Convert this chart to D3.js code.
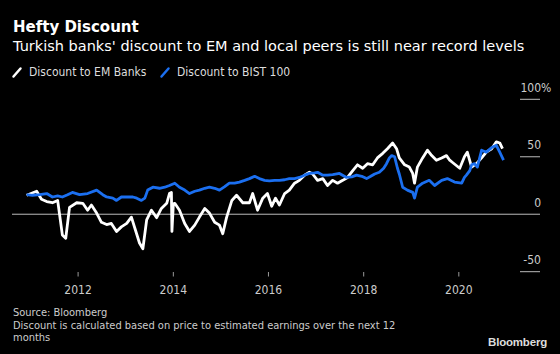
<!DOCTYPE html>
<html>
<head>
<meta charset="utf-8">
<script src="https://cdn.jsdelivr.net/npm/d3@7"></script>
<style>
  body { margin: 0; background: #000; }
  svg { display: block; background: #000; }
  text { font-family: "DejaVu Sans Condensed", "DejaVu Sans", sans-serif; }
</style>
</head>
<body>
<div id="chart"></div>
<script>
var svgWidth = 560;
var svgHeight = 354;

// Discount to EM Banks (decimal year, %)
var emYears = [2010.93, 2011.14, 2011.24, 2011.35, 2011.47, 2011.58, 2011.68, 2011.75, 2011.83, 2011.98,
  2012.11, 2012.21, 2012.29, 2012.40, 2012.50, 2012.61, 2012.71, 2012.82, 2012.92, 2013.03,
  2013.13, 2013.20, 2013.30, 2013.37, 2013.45, 2013.55, 2013.66, 2013.76, 2013.87, 2013.93,
  2013.97, 2013.98, 2014.01, 2014.04, 2014.14, 2014.25, 2014.35, 2014.46, 2014.56, 2014.67,
  2014.77, 2014.88, 2014.98, 2015.05, 2015.13, 2015.24, 2015.34, 2015.47, 2015.61, 2015.68,
  2015.78, 2015.89, 2015.99, 2016.08, 2016.16, 2016.24, 2016.35, 2016.45, 2016.56, 2016.66,
  2016.77, 2016.87, 2016.94, 2017.04, 2017.15, 2017.25, 2017.36, 2017.46, 2017.57, 2017.67,
  2017.78, 2017.88, 2017.99, 2018.09, 2018.20, 2018.30, 2018.41, 2018.51, 2018.62, 2018.70,
  2018.76, 2018.87, 2018.97, 2019.04, 2019.08, 2019.14, 2019.25, 2019.35, 2019.44, 2019.54,
  2019.65, 2019.75, 2019.82, 2019.88, 2020.03, 2020.13, 2020.19, 2020.28, 2020.38, 2020.49,
  2020.59, 2020.70, 2020.80, 2020.87, 2020.93];
var emValues = [16.5, 20, 13, 11, 10, 12, -18, -21, 6, 10,
  9.5, 3.5, 8, 1, -7, -9, -8, -15, -11, -8,
  -2.5, -12, -25, -30, -5, 3.5, -3, 5, 9.5, 18,
  19, -15, 9, 9.5, 3.5, -8, -15, -9.5, -2.5, 5,
  1, -7, -9.5, -17, -3, 12, 16.5, 10, 10, 18,
  3.5, 14, 18, 7, 14, 8, 18, 21, 27, 29.5,
  34, 36.5, 35, 29.5, 31, 25, 29.5, 27, 29.5, 32,
  38, 43, 40, 44, 43, 49, 53, 57, 62, 57,
  49, 43, 41, 35.5, 27, 41, 49, 55.7, 51, 47,
  49, 51, 47, 45, 40, 50, 54, 41, 44, 49,
  54, 57, 63, 62, 57];

// Discount to BIST 100 (decimal year, %)
var bistYears = [2010.93, 2011.05, 2011.20, 2011.35, 2011.47, 2011.58, 2011.68, 2011.79, 2011.89, 2012.04,
  2012.21, 2012.40, 2012.53, 2012.61, 2012.74, 2012.82, 2012.92, 2013.03, 2013.16, 2013.24,
  2013.34, 2013.41, 2013.47, 2013.58, 2013.72, 2013.83, 2013.93, 2014.04, 2014.14, 2014.25,
  2014.35, 2014.46, 2014.56, 2014.67, 2014.77, 2014.88, 2014.98, 2015.09, 2015.19, 2015.30,
  2015.40, 2015.51, 2015.61, 2015.72, 2015.82, 2015.93, 2016.03, 2016.14, 2016.24, 2016.35,
  2016.45, 2016.56, 2016.66, 2016.77, 2016.87, 2016.98, 2017.04, 2017.15, 2017.25, 2017.36,
  2017.50, 2017.65, 2017.76, 2017.86, 2017.97, 2018.07, 2018.16, 2018.24, 2018.34, 2018.43,
  2018.49, 2018.55, 2018.60, 2018.66, 2018.72, 2018.76, 2018.83, 2018.93, 2019.04, 2019.08,
  2019.14, 2019.25, 2019.39, 2019.50, 2019.65, 2019.77, 2019.92, 2020.07, 2020.13, 2020.17,
  2020.24, 2020.28, 2020.34, 2020.40, 2020.49, 2020.59, 2020.70, 2020.80, 2020.87, 2020.95];
var bistValues = [17, 16.5, 17, 18, 15, 16, 15, 17, 19, 17,
  18, 21, 17, 15, 14, 12, 15, 15, 15, 14,
  12, 14, 21, 23.5, 22.6, 23.5, 25, 27, 23.5, 21,
  18, 20, 21, 22.6, 23.5, 22.6, 21, 24, 27, 27,
  28, 29.5, 31, 33, 31, 29.5, 29, 29.5, 29.5, 30,
  31, 31, 32, 34, 35.5, 36, 36.5, 34, 34, 34.5,
  35.5, 32, 32.5, 34, 33, 31, 33, 35, 36.5, 40,
  44, 49, 51, 50, 40, 35, 23.5, 21, 19, 14,
  23.5, 27, 29.5, 25, 29.5, 31, 28, 27, 32, 34,
  38, 43, 44, 41, 55.7, 54, 58, 60, 54, 47];

var seriesNames = ["Discount to EM Banks", "Discount to BIST 100"];
var seriesColors = ["#ffffff", "#1b6ff0"];
var yearTicks = [2012, 2014, 2016, 2018, 2020];
var valueTicks = [-50, 0, 50, 100];

function yearToDate(y) {
  var yr = Math.floor(y);
  return new Date(yr, 0, 1 + Math.round((y - yr) * 365));
}

var emData = emYears.map((y, i) => ({date: yearToDate(y), value: emValues[i]}));
var bistData = bistYears.map((y, i) => ({date: yearToDate(y), value: bistValues[i]}));

var svg = d3.select("#chart")
  .append("svg")
  .attr("width", svgWidth)
  .attr("height", svgHeight);

// Scales
var xScale = d3.scaleTime()
  .domain([new Date(2010, 11, 1), new Date(2021, 0, 1)])
  .range([26, 506]);

var yScale = d3.scaleLinear()
  .domain([-50, 100])
  .range([271.7, 99.3]);

// Title block
svg.append("text")
  .attr("x", 13).attr("y", 32)
  .attr("fill", "#fff")
  .style("font-family", "'DejaVu Sans', sans-serif")
  .style("font-weight", "bold")
  .style("font-size", "15px")
  .text("Hefty Discount");

svg.append("text")
  .attr("x", 13).attr("y", 51)
  .attr("fill", "#fff")
  .style("font-family", "'DejaVu Sans', sans-serif")
  .style("font-size", "14.5px")
  .text("Turkish banks' discount to EM and local peers is still near record levels");

// Legend
var legendX = [13, 161];
seriesNames.forEach(function(name, i) {
  svg.append("line")
    .attr("x1", legendX[i] + 0.5).attr("y1", 76.5)
    .attr("x2", legendX[i] + 7.5).attr("y2", 68.5)
    .attr("stroke", seriesColors[i])
    .attr("stroke-width", 2.5)
    .attr("stroke-linecap", "round");
  svg.append("text")
    .attr("x", legendX[i] + 16).attr("y", 76)
    .attr("fill", "#ddd")
    .style("font-size", "12px")
    .text(name);
});

// Y gridline stubs + labels on the right
valueTicks.forEach(function(v) {
  svg.append("line")
    .attr("x1", v === 0 ? 12 : 520)
    .attr("x2", 540)
    .attr("y1", yScale(v)).attr("y2", yScale(v))
    .attr("stroke", "#bbb")
    .attr("stroke-width", 1);
  svg.append("text")
    .attr("x", 541)
    .attr("y", yScale(v) - 7.5)
    .attr("text-anchor", "end")
    .attr("fill", "#ccc")
    .style("font-size", "12px")
    .text(v);
});
svg.append("text")
  .attr("x", 541)
  .attr("y", yScale(100) - 7.5)
  .attr("fill", "#ccc")
  .style("font-size", "12px")
  .text("%");

// X axis
var bottomAxis = d3.axisBottom(xScale)
  .tickValues(yearTicks.map(y => new Date(y, 0, 1)))
  .tickFormat(d3.timeFormat("%Y"))
  .tickSize(4.5)
  .tickPadding(9);

var xAxisGroup = svg.append("g")
  .attr("transform", "translate(0, 272)")
  .call(bottomAxis);
xAxisGroup.select(".domain").remove();
xAxisGroup.selectAll(".tick line").attr("stroke", "#999");
xAxisGroup.selectAll(".tick text")
  .attr("fill", "#ccc")
  .style("font-size", "12px")
  .style("font-family", "'DejaVu Sans Condensed', 'DejaVu Sans', sans-serif");

// Lines
var line = d3.line()
  .x(d => xScale(d.date))
  .y(d => yScale(d.value));

[emData, bistData].forEach(function(data, i) {
  svg.append("path")
    .datum(data)
    .attr("fill", "none")
    .attr("stroke", seriesColors[i])
    .attr("stroke-width", 2.8)
    .attr("stroke-linejoin", "round")
    .attr("d", line);
});

// Footer
var notes = ["Source: Bloomberg",
  "Discount is calculated based on price to estimated earnings over the next 12",
  "months"];
svg.append("g").selectAll("text")
  .data(notes)
  .enter()
  .append("text")
  .attr("x", 13)
  .attr("y", (d, i) => 316 + i * 12.6)
  .attr("fill", "#ccc")
  .style("font-size", "11px")
  .text(d => d);

svg.append("text")
  .attr("x", 547).attr("y", 346)
  .attr("text-anchor", "end")
  .attr("fill", "#ddd")
  .style("font-family", "'Liberation Sans', Arial, sans-serif")
  .style("font-weight", "bold")
  .style("font-size", "11.5px")
  .style("letter-spacing", "-0.2px")
  .text("Bloomberg");
</script>
</body>
</html>
